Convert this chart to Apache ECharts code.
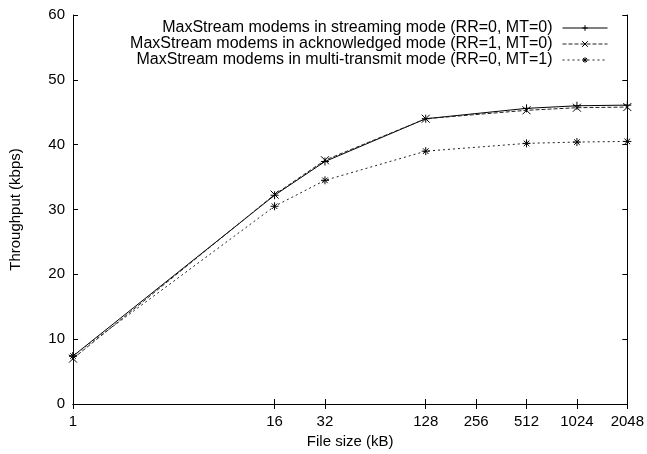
<!DOCTYPE html>
<html>
<head>
<meta charset="utf-8">
<script src="https://cdn.jsdelivr.net/npm/echarts@6/dist/echarts.min.js"></script>
<style>
  html, body { margin: 0; padding: 0; background: #fff; }
  #chart { width: 647px; height: 454px; }
</style>
</head>
<body>
<div id="chart"></div>
<script>
// file sizes (kB) and throughput (kbps)
const fileSizes = [1, 16, 32, 128, 512, 1024, 2048]
const streaming = [7.4, 32.2, 37.4, 44.0, 45.6, 46.0, 46.1]
const acknowledged = [7.0, 32.3, 37.6, 44.0, 45.3, 45.7, 45.8]
const multiTransmit = [7.4, 30.5, 34.5, 39.0, 40.2, 40.4, 40.5]
const xTicks = [1, 16, 32, 128, 256, 512, 1024, 2048]

const names = [
  'MaxStream modems in streaming mode (RR=0, MT=0)',
  'MaxStream modems in acknowledged mode (RR=1, MT=0)',
  'MaxStream modems in multi-transmit mode (RR=0, MT=1)'
]

const font = 'Liberation Sans, Arial, Helvetica, sans-serif'

const plusSym = 'path://M5,0V10M0,5H10'
const crossSym = 'path://M0,0L10,10M10,0L0,10'
const starSym = 'path://M5,0V10M0,5H10M1.5,1.5L8.5,8.5M8.5,1.5L1.5,8.5'

const pairs = ys => fileSizes.map((x, i) => [x, ys[i]])

const chart = echarts.init(document.getElementById('chart'))

const makeSeries = (name, ys, symbol, lineType, color) => ({
  name: name,
  type: 'line',
  data: pairs(ys),
  symbol: symbol,
  symbolSize: 8,
  showSymbol: true,
  animation: false,
  lineStyle: { color: color, width: 1, type: lineType },
  itemStyle: { color: 'none', borderColor: '#000', borderWidth: 1 },
  emphasis: { disabled: true }
})

const makeLegend = (name, top) => ({
  data: [name],
  right: 39,
  top: top,
  padding: 0,
  align: 'right',
  itemWidth: 45,
  itemHeight: 7,
  itemGap: 0,
  selectedMode: false,
  lineStyle: { width: 1 },
  itemStyle: { color: 'none', borderColor: '#000', borderWidth: 1 },
  textStyle: { fontFamily: font, fontSize: 16, color: '#000', padding: [0, 5, 0, 0] }
})

const axisCommon = {
  axisLine: { lineStyle: { color: '#000', width: 1 } },
  splitLine: { show: false }
}

chart.setOption({
  backgroundColor: '#fff',
  grid: { left: 73, right: 19, top: 15, bottom: 49 },
  legend: [
    makeLegend(names[0], 20),
    makeLegend(names[1], 36),
    makeLegend(names[2], 52)
  ],
  xAxis: [
    {
      ...axisCommon,
      type: 'log',
      logBase: 2,
      min: 1,
      max: 2048,
      name: 'File size (kB)',
      nameLocation: 'middle',
      nameGap: 30,
      nameTextStyle: { fontFamily: font, fontSize: 15, color: '#000' },
      axisTick: { inside: true, length: 5, customValues: xTicks, lineStyle: { color: '#000' } },
      axisLabel: {
        customValues: xTicks,
        formatter: v => String(Math.round(v)),
        fontFamily: font, fontSize: 15, color: '#000', margin: 10
      }
    },
    {
      ...axisCommon,
      type: 'log',
      logBase: 2,
      min: 1,
      max: 2048,
      position: 'top',
      axisTick: { inside: true, length: 5, customValues: xTicks, lineStyle: { color: '#000' } },
      axisLabel: { show: false }
    }
  ],
  yAxis: [
    {
      ...axisCommon,
      type: 'value',
      min: 0,
      max: 60,
      interval: 10,
      name: 'Throughput (kbps)',
      nameLocation: 'middle',
      nameGap: 50,
      nameTextStyle: { fontFamily: font, fontSize: 15, color: '#000' },
      axisTick: { inside: true, length: 5, lineStyle: { color: '#000' } },
      axisLabel: { fontFamily: font, fontSize: 15, color: '#000', margin: 8 }
    },
    {
      ...axisCommon,
      type: 'value',
      min: 0,
      max: 60,
      interval: 10,
      position: 'right',
      axisTick: { inside: true, length: 5, lineStyle: { color: '#000' } },
      axisLabel: { show: false }
    }
  ],
  series: [
    makeSeries(names[0], streaming, plusSym, 'solid', '#000'),
    makeSeries(names[1], acknowledged, crossSym, [4, 2], '#222'),
    makeSeries(names[2], multiTransmit, starSym, [2, 3], '#222')
  ]
})
</script>
</body>
</html>
